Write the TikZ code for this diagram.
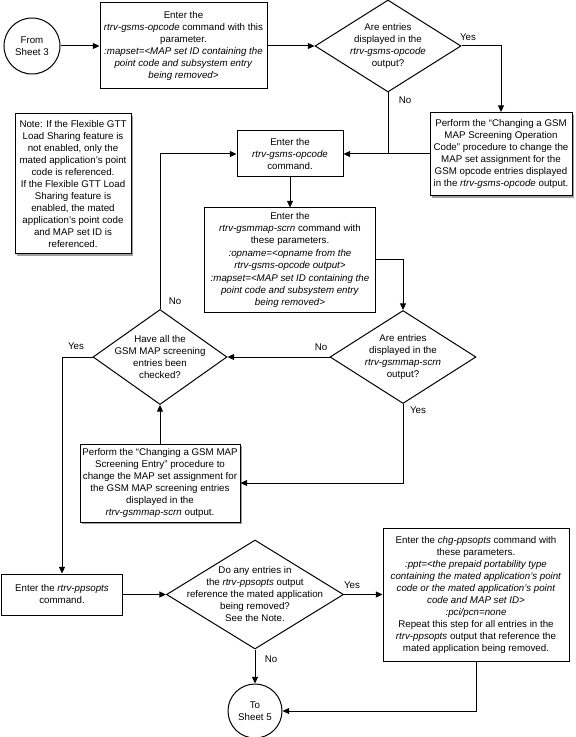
\documentclass[tikz,border=0pt]{standalone}
\usepackage{fontspec}
\setmainfont{Liberation Sans}
\usetikzlibrary{shapes.geometric,arrows.meta,shadows}
\begin{document}
\begin{tikzpicture}[x=0.75pt,y=-0.75pt,
 every node/.style={font=\fontsize{7.3}{9}\selectfont, align=center, inner sep=0pt},
 sz/.style 2 args={minimum width=#1*0.75pt, minimum height=#2*0.75pt},
 box/.style={draw, fill=white, rectangle, line width=0.75pt},
 sbox/.style={box, drop shadow={shadow xshift=1.6pt,shadow yshift=-1.6pt,fill=gray!75,opacity=1}},
 dia/.style={draw, diamond, line width=0.75pt},
 circ/.style={draw, circle, line width=0.75pt},
 conn/.style={line width=0.75pt},
 arr/.style={conn, -{Triangle[length=5pt,width=4.5pt]}},
 lbl/.style={font=\fontsize{7.3}{9}\selectfont}]
\useasboundingbox (0,0) rectangle (575,737);

% nodes
\node[circ, minimum size=42pt] (c1) at (32,46) {From\\Sheet 3};
\node[box, sz={167}{86}] (b1) at (183.5,46) {Enter the\\\textit{rtrv-gsms-opcode} command with this\\parameter.\\\textit{:mapset=<MAP set ID containing the}\\\textit{point code and subsystem entry}\\\textit{being removed>}};
\node[dia, sz={146}{92}] (d1) at (388,46) {};
\node (d1t) at (388,46) {Are entries\\displayed in the\\\textit{rtrv-gsms-opcode}\\output?};
\node[sbox, sz={142}{83}] (p1) at (501,154) {Perform the “Changing a GSM\\MAP Screening Operation\\Code” procedure to change the\\MAP set assignment for the\\GSM opcode entries displayed\\in the \textit{rtrv-gsms-opcode} output.};
\node[box, sz={106}{46}] (e1) at (290,154) {Enter the\\\textit{rtrv-gsms-opcode}\\command.};
\node[sbox, sz={116}{140}] (note) at (73,184) {Note: If the Flexible GTT\\Load Sharing feature is\\not enabled, only the\\mated application’s point\\code is referenced.\\If the Flexible GTT Load\\Sharing feature is\\enabled, the mated\\application’s point code\\and MAP set ID is\\referenced.};
\node[box, sz={171}{104}] (e2) at (290,260) {Enter the\\\textit{rtrv-gsmmap-scrn} command with\\these parameters.\\[1pt]\textit{:opname=<opname from the}\\\textit{rtrv-gsms-opcode output>}\\[1pt]\textit{:mapset=<MAP set ID containing the}\\\textit{point code and subsystem entry}\\\textit{being removed>}};
\node[dia, sz={146}{93}] (d2) at (403,357) {};
\node (d2t) at (403,357) {Are entries\\displayed in the\\\textit{rtrv-gsmmap-scrn}\\output?};
\node[dia, sz={134}{95}] (d3) at (160,357) {};
\node (d3t) at (160,357) {Have all the\\GSM MAP screening\\entries been\\checked?};
\node[sbox, sz={160}{78}] (p2) at (160,483) {Perform the “Changing a GSM MAP\\Screening Entry” procedure to\\change the MAP set assignment for\\the GSM MAP screening entries\\displayed in the\\\textit{rtrv-gsmmap-scrn} output.};
\node[box, sz={121}{41}] (e3) at (62,594.5) {Enter the \textit{rtrv-ppsopts}\\command.};
\node[dia, sz={177}{109}] (d4) at (255,594.5) {};
\node (d4t) at (255,594.5) {Do any entries in\\the \textit{rtrv-ppsopts} output\\reference the mated application\\being removed?\\See the Note.};
\node[box, sz={186}{133}] (chg) at (476,594.5) {Enter the \textit{chg-ppsopts} command with\\these parameters.\\\textit{:ppt=<the prepaid portability type}\\\textit{containing the mated application’s point}\\\textit{code or the mated application’s point}\\\textit{code and MAP set ID>}\\\textit{:pci/pcn=none}\\Repeat this step for all entries in the\\\textit{rtrv-ppsopts} output that reference the\\mated application being removed.};
\node[circ, minimum size=40.5pt] (c2) at (255,711) {To\\Sheet 5};

% connectors
\draw[arr] (c1.east) -- (b1.west);
\draw[arr] (b1.east) -- (d1.west);
\draw[arr] (d1.east) -| (p1.north);
\draw[arr] (p1.west) -- (e1.east);
\draw[conn] (d1.south) -- (d1.south |- e1.east);
\draw[arr] (e1.south) -- (e2.north);
\draw[arr] (e2.east) -| (d2.north);
\draw[arr] (d2.west) -- (d3.east);
\draw[arr] (d2.south) |- (p2.east);
\draw[arr] (p2.north) -- (d3.south);
\draw[arr] (d3.north) |- (e1.west);
\draw[arr] (d3.west) -| (e3.north);
\draw[arr] (e3.east) -- (d4.west);
\draw[arr] (d4.east) -- (chg.west);
\draw[arr] (d4.south) -- (c2.north);
\draw[arr] (chg.south) |- (c2.east);

% labels
\node[lbl] (l1) at (468,37) {Yes};
\node[lbl] (l2) at (405,100) {No};
\node[lbl] (l3) at (175,301) {No};
\node[lbl] (l4) at (76,346) {Yes};
\node[lbl] (l5) at (321,347) {No};
\node[lbl] (l6) at (418,410) {Yes};
\node[lbl] (l7) at (352,585) {Yes};
\node[lbl] (l8) at (271,659) {No};
\end{tikzpicture}
\end{document}
